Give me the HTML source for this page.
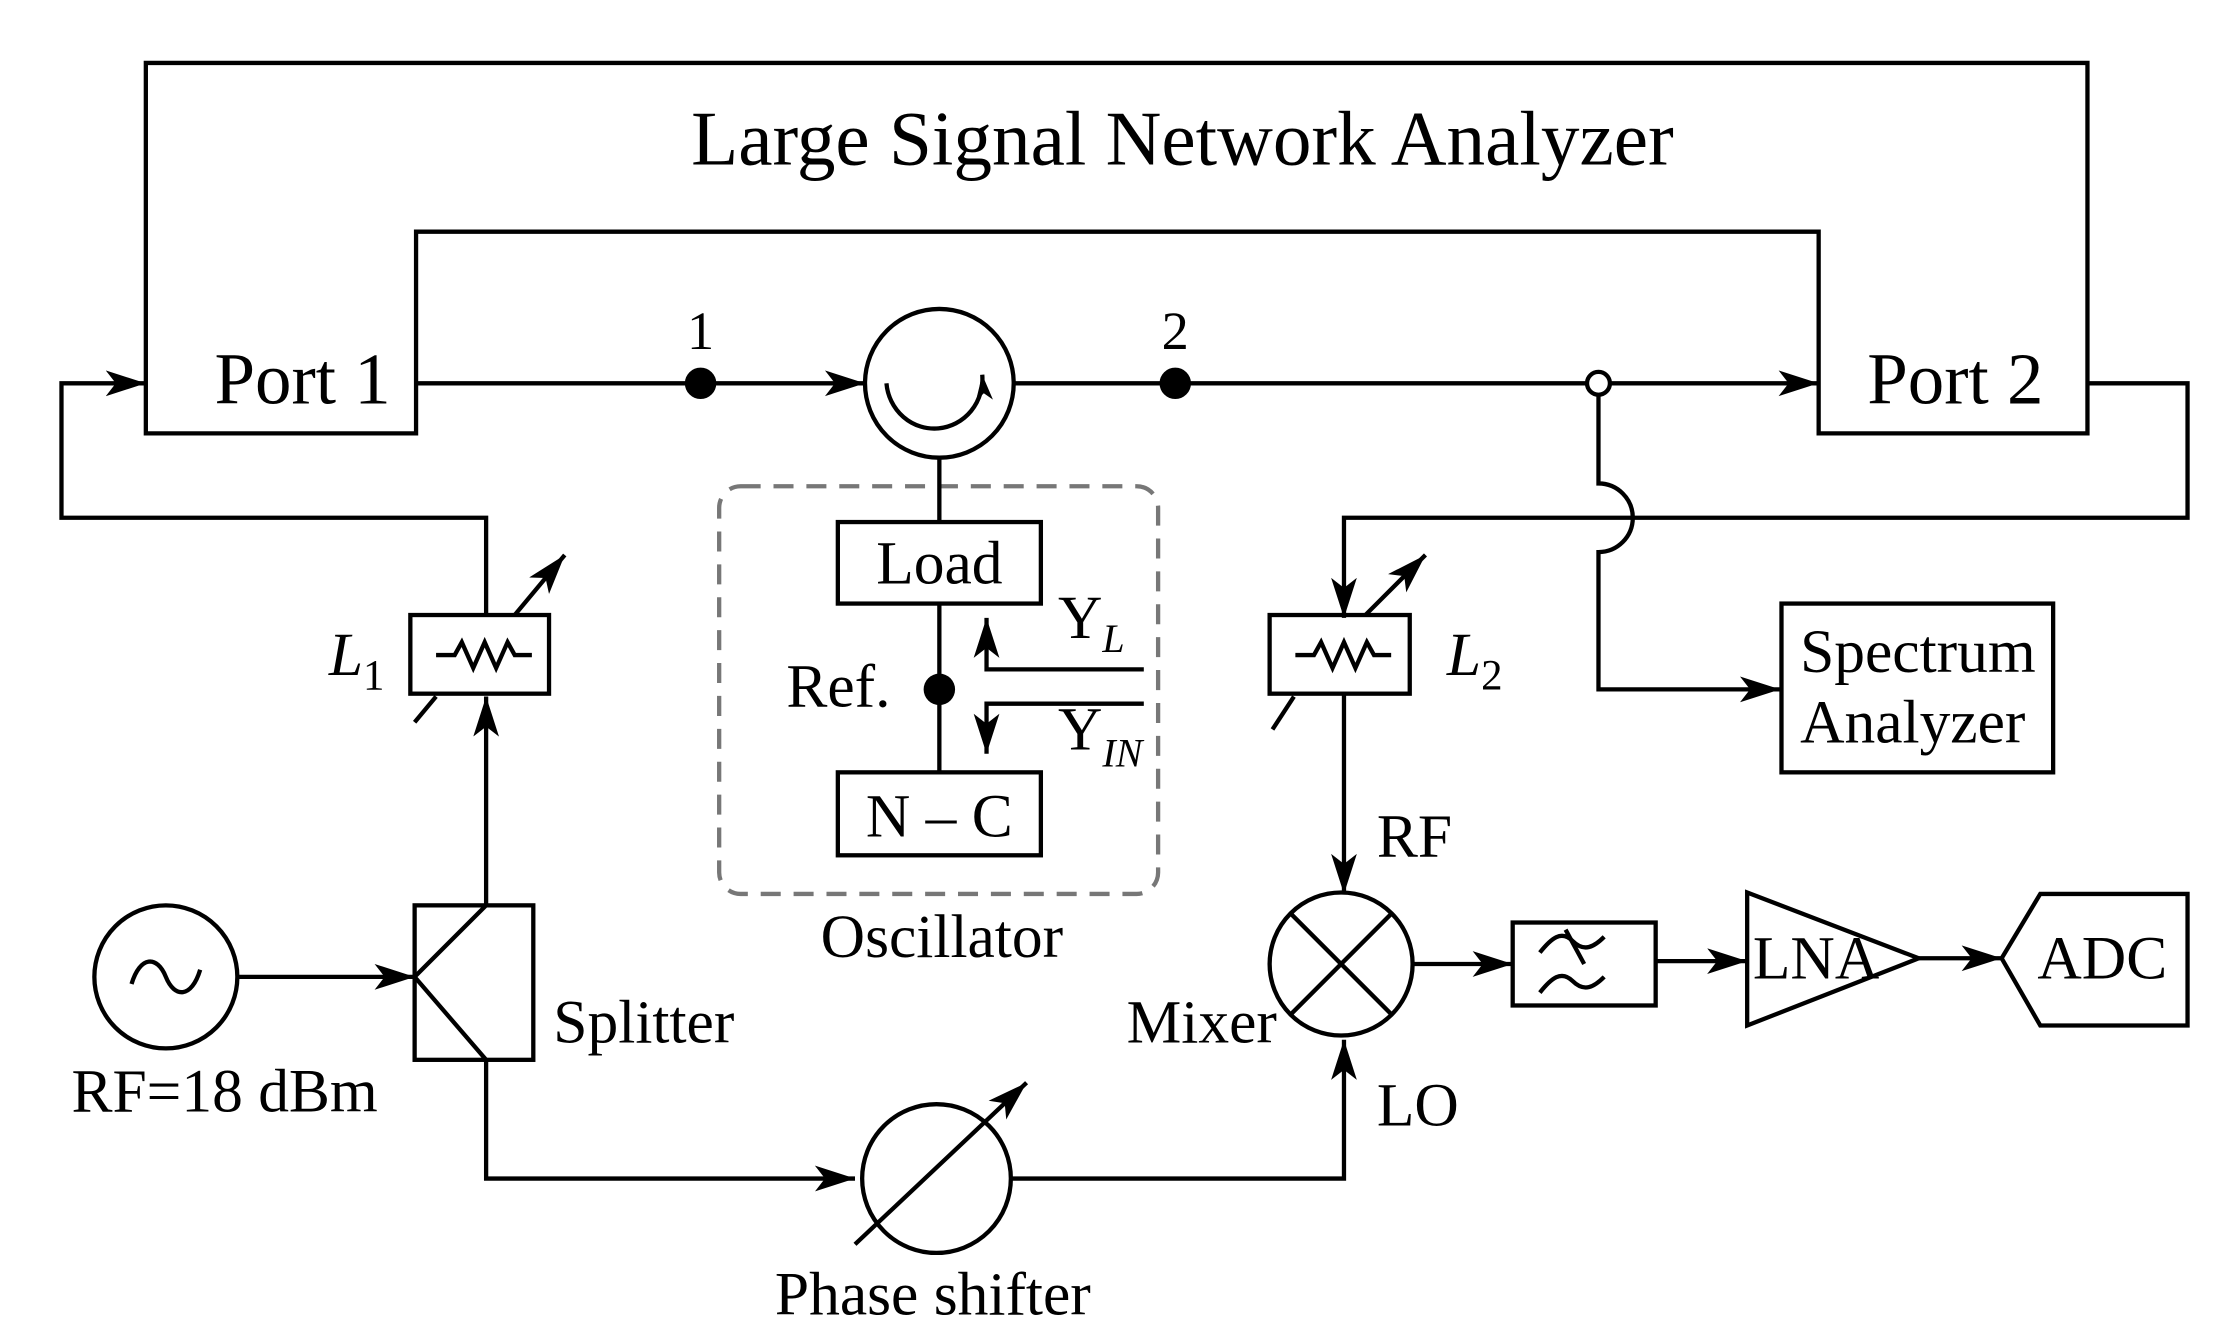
<!DOCTYPE html>
<html><head><meta charset="utf-8"><style>
html,body{margin:0;padding:0;background:#fff}
svg{display:block}
text{font-family:"Liberation Serif",serif;fill:#000}
</style></head><body>
<svg width="2229" height="1323" viewBox="0 0 1559 925" preserveAspectRatio="none" xmlns="http://www.w3.org/2000/svg">
<defs>
<marker id="a" markerUnits="userSpaceOnUse" markerWidth="32" markerHeight="22" refX="28" refY="9" orient="auto">
<path d="M0,0 L28,9 L0,18 L7,9 Z" fill="#000"/>
</marker>
<marker id="s" markerUnits="userSpaceOnUse" markerWidth="22" markerHeight="16" refX="18" refY="6" orient="auto">
<path d="M0,0 L18,6 L0,12 L5,6 Z" fill="#000"/>
</marker>
</defs>
<g fill="none" stroke="#000" stroke-width="3">
<path d="M102,303 V44 H1460 V303 H1272 V162 H291 V303 Z"/>
<path d="M291,268 H605" marker-end="url(#a)"/>
<circle cx="657" cy="268" r="52"/>
<path d="M709,268 H1110"/>
<circle cx="1118" cy="268" r="8"/>
<path d="M1126,268 H1272" marker-end="url(#a)"/>
<path d="M620,268 A33,34 0 0 0 687,262" marker-end="url(#s)"/>
<path d="M340,430 V362 H43 V268 H102" marker-end="url(#a)"/>
<path d="M1460,268 H1530 V362 H940 V432" marker-end="url(#a)"/>
<path d="M1118,276 V338 A24,24 0 0 1 1118,386 V482 H1245" marker-end="url(#a)"/>
<rect x="1246" y="422" width="190" height="118"/>
<rect x="287" y="430" width="97" height="55"/>
<path d="M305,458 H318 L323,449 L331,467 L339,449 L347,467 L355,449 L360,458 H372"/>
<path d="M360,430 L395,388" marker-end="url(#a)"/>
<path d="M290,505 L305,487"/>
<path d="M340,633 V487" marker-end="url(#a)"/>
<rect x="888" y="430" width="98" height="55"/>
<path d="M906,458 H919 L924,449 L932,467 L940,449 L948,467 L956,449 L961,458 H973"/>
<path d="M955,430 L997,388" marker-end="url(#a)"/>
<path d="M890,510 L905,487"/>
<path d="M940,485 V625" marker-end="url(#a)"/>
<circle cx="938" cy="674" r="50"/>
<path d="M903,639 L973,709 M973,639 L903,709"/>
<path d="M988,674 H1058" marker-end="url(#a)"/>
<rect x="1058" y="645" width="100" height="58"/>
<path d="M1077,666 C1085,656 1092,650 1100,658 C1108,666 1115,662 1122,655"/>
<path d="M1077,694 C1085,684 1092,678 1100,686 C1108,694 1115,690 1122,683"/>
<path d="M1095,650 L1108,674"/>
<path d="M1158,672 H1222" marker-end="url(#a)"/>
<polygon points="1222,624 1222,717 1342,670"/>
<path d="M1342,670 H1400" marker-end="url(#a)"/>
<polygon points="1400,670 1427,625 1530,625 1530,717 1427,717"/>
<circle cx="116" cy="683" r="50"/>
<path d="M92,688 C98,668 110,668 116,683 C122,698 134,698 140,678"/>
<path d="M166,683 H290" marker-end="url(#a)"/>
<rect x="290" y="633" width="83" height="108"/>
<path d="M340,633 L290,683 L340,741"/>
<path d="M340,741 V824 H598" marker-end="url(#a)"/>
<circle cx="655" cy="824" r="52"/>
<path d="M598,870 L718,757" marker-end="url(#a)"/>
<path d="M708,824 H940 V727" marker-end="url(#a)"/>
<rect x="503" y="340" width="307" height="285" rx="15" stroke="#777" stroke-dasharray="14,9"/>
<path d="M657,320 V365"/>
<rect x="586" y="365" width="142" height="57"/>
<path d="M657,422 V540"/>
<rect x="586" y="540" width="142" height="58"/>
<path d="M800,468 H690 V432" marker-end="url(#a)"/>
<path d="M800,492 H690 V527" marker-end="url(#a)"/>
</g>
<g fill="#000">
<circle cx="490" cy="268" r="11"/>
<circle cx="822" cy="268" r="11"/>
<circle cx="657" cy="482" r="11"/>
</g>
<g font-size="43">
<text x="827" y="115" font-size="54" text-anchor="middle">Large Signal Network Analyzer</text>
<text x="150" y="282" font-size="51">Port 1</text>
<text x="1306" y="282" font-size="51">Port 2</text>
<text x="490" y="244" text-anchor="middle" font-size="38">1</text>
<text x="822" y="244" text-anchor="middle" font-size="38">2</text>
<text x="657" y="408" text-anchor="middle">Load</text>
<text x="657" y="585" text-anchor="middle">N – C</text>
<text x="550" y="494">Ref.</text>
<text x="740" y="446">Y<tspan font-size="28" font-style="italic" dy="10">L</tspan></text>
<text x="740" y="524">Y<tspan font-size="28" font-style="italic" dy="12">IN</tspan></text>
<text x="574" y="669">Oscillator</text>
<text x="230" y="472" font-style="italic">L<tspan font-size="30" font-style="normal" dy="10">1</tspan></text>
<text x="1012" y="472" font-style="italic">L<tspan font-size="30" font-style="normal" dy="10">2</tspan></text>
<text x="1259" y="470">Spectrum</text>
<text x="1259" y="519">Analyzer</text>
<text x="963" y="599">RF</text>
<text x="963" y="787">LO</text>
<text x="788" y="729">Mixer</text>
<text x="387" y="729">Splitter</text>
<text x="50" y="777">RF=18 dBm</text>
<text x="542" y="919">Phase shifter</text>
<text x="1226" y="684">LNA</text>
<text x="1425" y="684">ADC</text>
</g>
</svg>
</body></html>
